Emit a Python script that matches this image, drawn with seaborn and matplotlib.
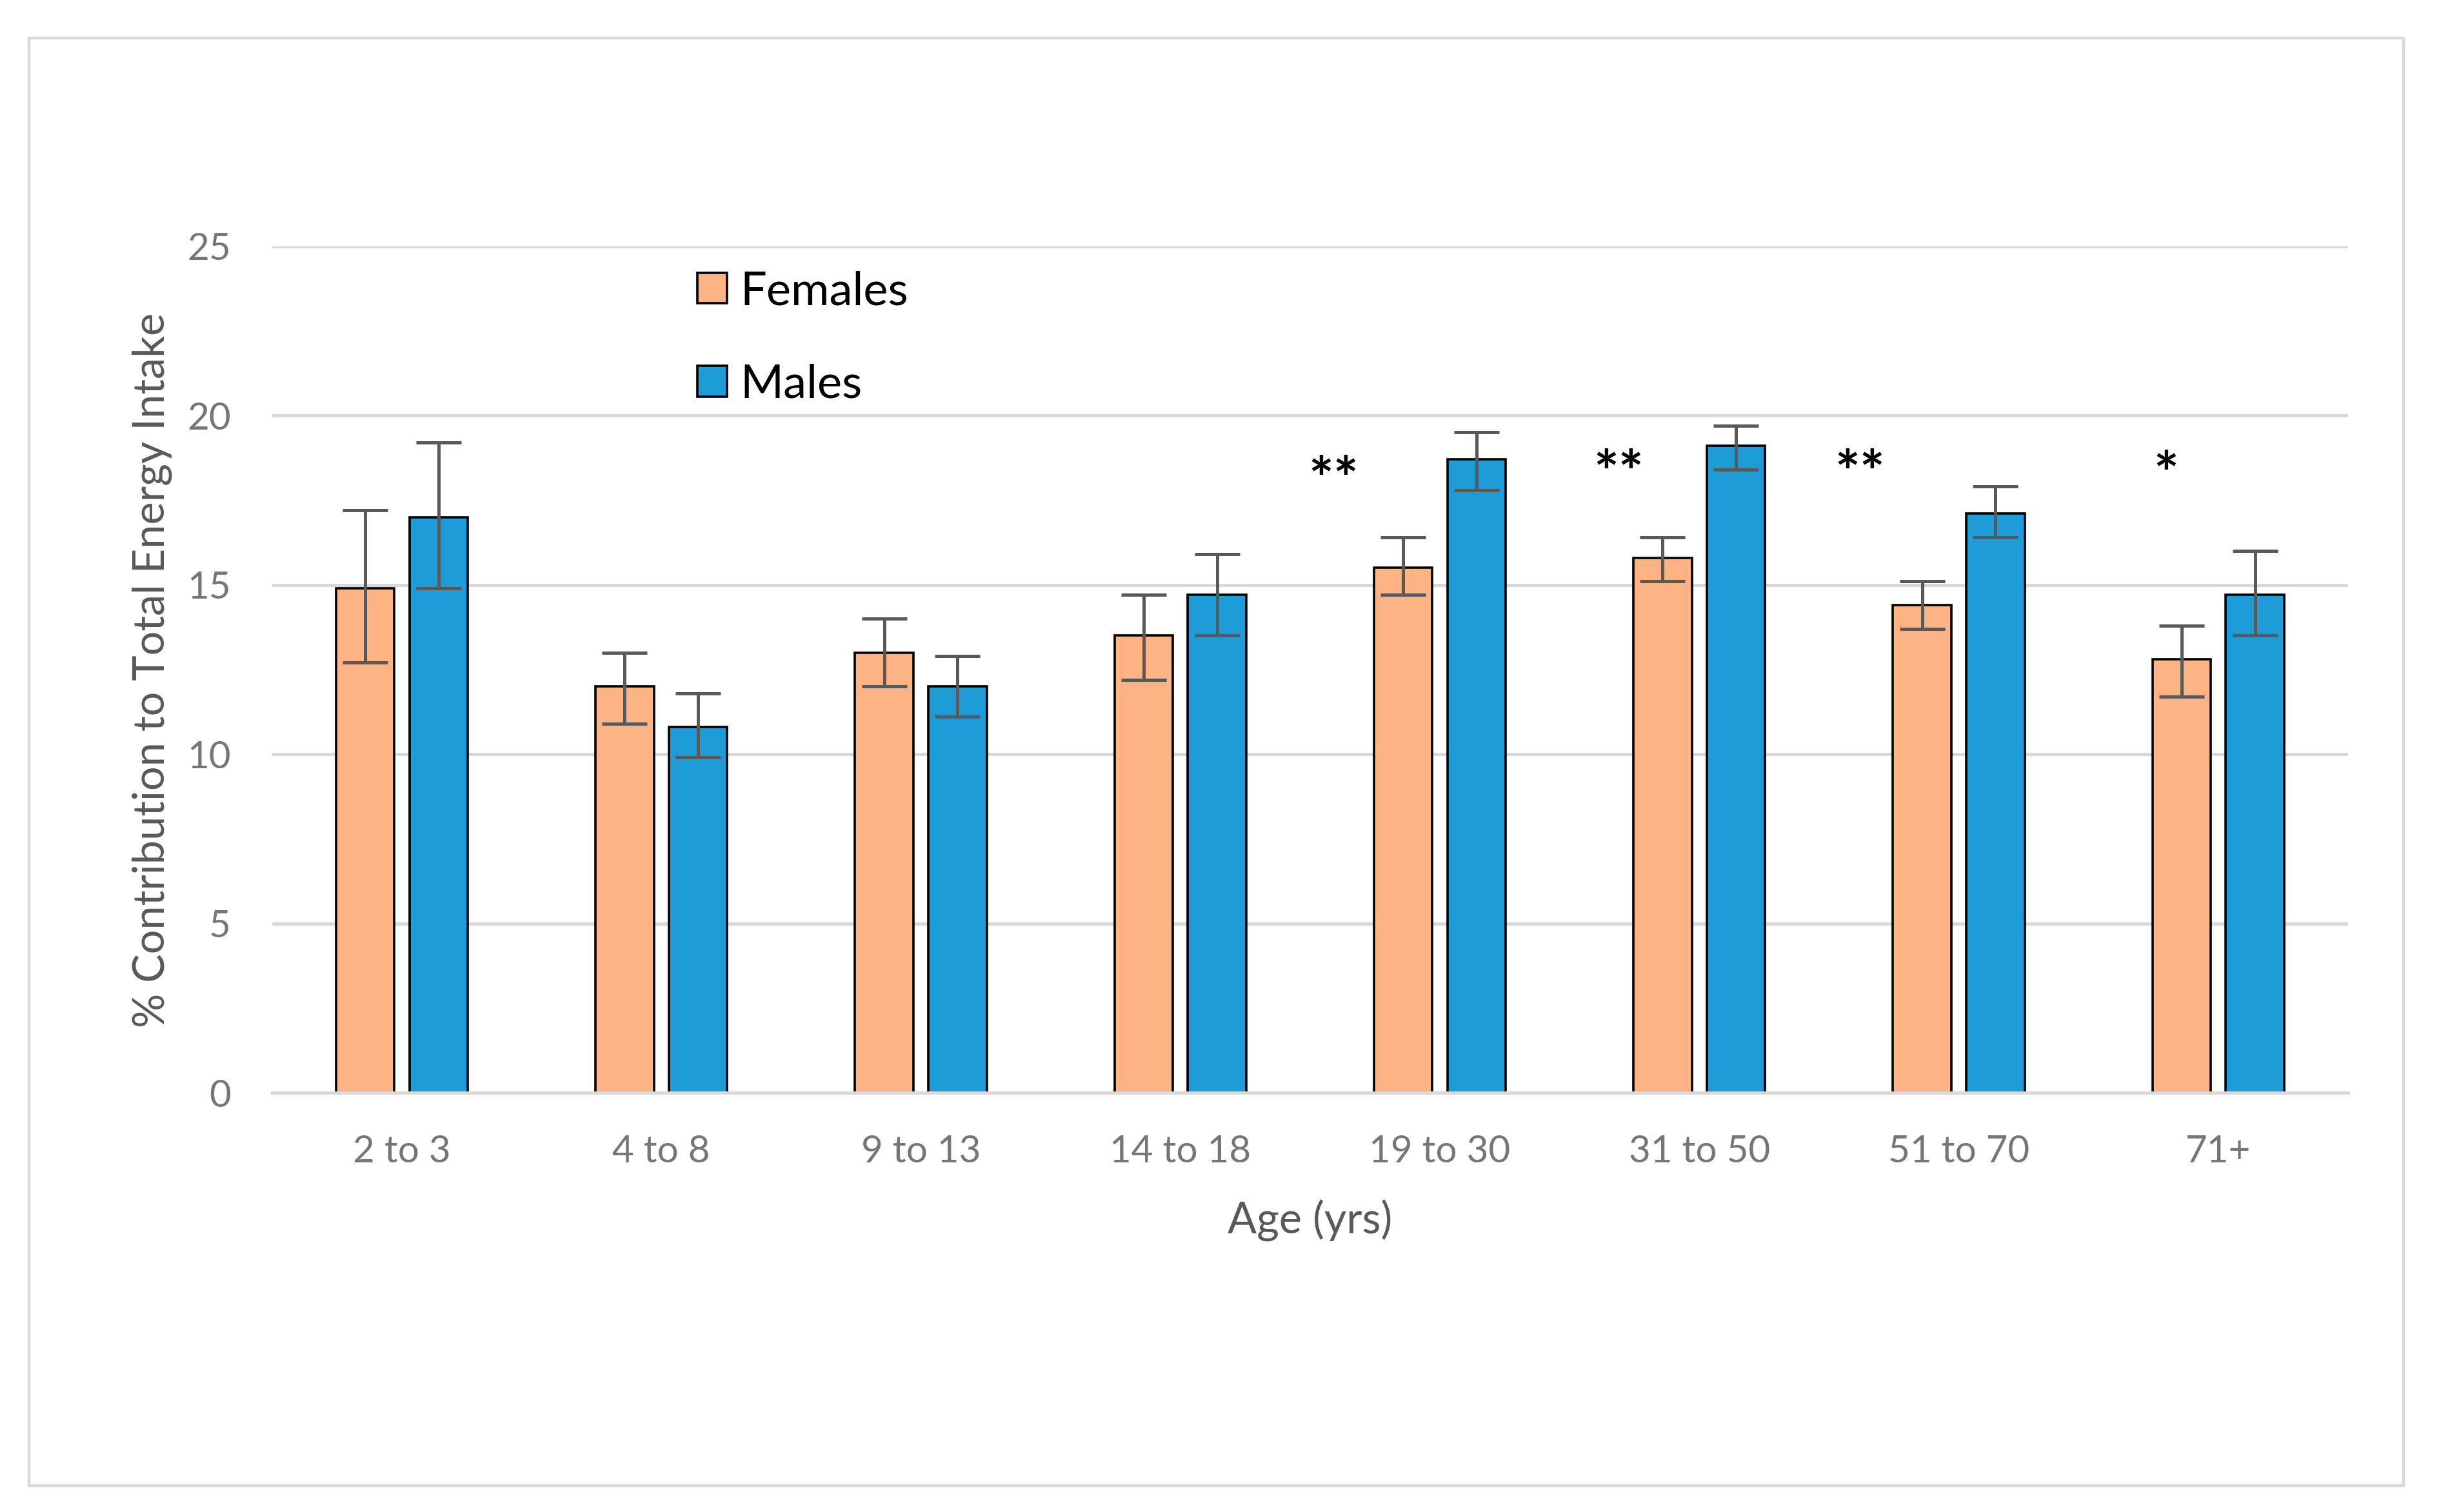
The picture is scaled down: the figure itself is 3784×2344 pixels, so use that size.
import matplotlib
matplotlib.use("Agg")
import matplotlib.pyplot as plt
from matplotlib.patches import Patch, Rectangle
import seaborn as sns
import pandas as pd

# ---------------- data ----------------
age_groups = ["2 to 3", "4 to 8", "9 to 13", "14 to 18", "19 to 30", "31 to 50", "51 to 70", "71+"]
females = [14.9, 12.0, 13.0, 13.5, 15.5, 15.8, 14.4, 12.8]
females_low = [12.7, 10.9, 12.0, 12.2, 14.7, 15.1, 13.7, 11.7]
females_high = [17.2, 13.0, 14.0, 14.7, 16.4, 16.4, 15.1, 13.8]
males = [17.0, 10.8, 12.0, 14.7, 18.7, 19.1, 17.1, 14.7]
males_low = [14.9, 9.9, 11.1, 13.5, 17.8, 18.4, 16.4, 13.5]
males_high = [19.2, 11.8, 12.9, 15.9, 19.5, 19.7, 17.9, 16.0]
series_names = ["Females", "Males"]
series_colors = ["#FDB383", "#1E9CD8"]
y_ticks = [0, 5, 10, 15, 20, 25]
star_groups = ["19 to 30", "31 to 50", "51 to 70", "71+"]
star_labels = ["**", "**", "**", "*"]
star_offsets = [-0.41, -0.31, -0.38, -0.20]
star_y = [17.5, 17.7, 17.7, 17.65]

# ---------------- figure ----------------
sns.set_theme(style="white")
plt.rcParams["font.family"] = ["Lato", "DejaVu Sans"]

fig = plt.figure(figsize=(18.92, 11.72), dpi=200)
ax = fig.add_axes([0.1115, 0.2773, 0.9619 - 0.1115, 0.8372 - 0.2773])

df = pd.DataFrame({
    "age": age_groups * 2,
    "value": females + males,
    "sex": [series_names[0]] * len(age_groups) + [series_names[1]] * len(age_groups),
})

sns.barplot(data=df, x="age", y="value", hue="sex", order=age_groups,
            hue_order=series_names, palette=series_colors, saturation=1,
            width=0.566, gap=0.205, edgecolor="black", linewidth=1.3,
            errorbar=None, legend=False, ax=ax)

# asymmetric error bars, positioned on the drawn bars
lows = [females_low, males_low]
highs = [females_high, males_high]
vals = [females, males]
bar_containers = list(ax.containers)
for ci, cont in enumerate(bar_containers):
    xs = [b.get_x() + b.get_width() / 2 for b in cont.patches]
    v = vals[ci]
    yerr = [[v[i] - lows[ci][i] for i in range(len(v))],
            [highs[ci][i] - v[i] for i in range(len(v))]]
    ax.errorbar(xs, v, yerr=yerr, fmt="none", ecolor="#595959",
                elinewidth=1.8, capsize=12.6, capthick=1.8, zorder=5)

# significance stars
for g, lab, off, yy in zip(star_groups, star_labels, star_offsets, star_y):
    xi = age_groups.index(g) + off
    ax.text(xi, yy, lab, ha="center", va="baseline", fontsize=33,
            fontweight="bold", color="black")

ax.set_xlim(-0.5, len(age_groups) - 0.5)
ax.set_ylim(0, 25)
ax.set_yticks(y_ticks)
ax.yaxis.grid(True, color="#D9D9D9", linewidth=1.8)
ax.set_axisbelow(True)
for s in ["top", "right", "left"]:
    ax.spines[s].set_visible(False)
ax.spines["bottom"].set_color("#D9D9D9")
ax.spines["bottom"].set_linewidth(1.8)
ax.spines["bottom"].set_zorder(6)

ax.tick_params(axis="y", length=0, pad=23, labelsize=21, labelcolor="#767676")
ax.tick_params(axis="x", length=0, pad=23.5, labelsize=21, labelcolor="#767676")

ax.set_xlabel("Age (yrs)", fontsize=24, color="#595959")
ax.set_ylabel("% Contribution to Total Energy Intake", fontsize=24, color="#595959")
ax.xaxis.set_label_coords(0.5, -0.1266)
ax.yaxis.set_label_coords(-0.048, 0.499)

handles = [Patch(facecolor=c, edgecolor="black", linewidth=1.3) for c in series_colors]
leg = ax.legend(handles, series_names, loc="upper left", bbox_to_anchor=(0.2048, 0.9715),
                frameon=False, fontsize=26, handlelength=0.64, handleheight=0.64,
                handletextpad=0.28, labelspacing=1.1, borderpad=0, borderaxespad=0)
for t in leg.get_texts():
    t.set_color("black")

# outer frame
fig.patches.append(Rectangle((45 / 3784, 1 - 2303 / 2344), (3726 - 45) / 3784, (2303 - 59) / 2344,
                             transform=fig.transFigure, fill=False,
                             edgecolor="#D9D9D9", linewidth=1.6, zorder=0))

fig.savefig("out.png", dpi=200, facecolor="white")
